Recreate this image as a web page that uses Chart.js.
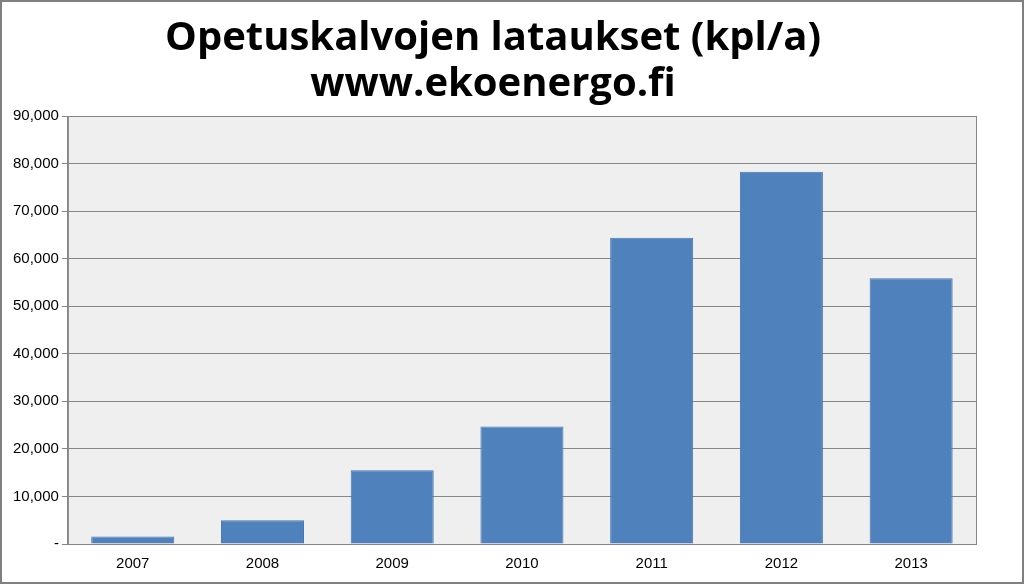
<!DOCTYPE html>
<html><head><meta charset="utf-8">
<script src="https://cdn.jsdelivr.net/npm/chart.js@4"></script>
<style>html,body{margin:0;padding:0;background:#fff}#w{position:relative;width:1020px;height:580px;border:2px solid #7f7f7f;}</style>
</head><body><div id="w"><canvas id="c"></canvas></div>
<script>
const categories=['2007','2008','2009','2010','2011','2012','2013'];
const downloads=[1600,5000,15500,24700,64400,78300,55900];
const titleLines=['Opetuskalvojen lataukset (kpl/a)','www.ekoenergo.fi'];

const bgPlugin={
  id:'bg',
  beforeDraw(ch){
    const a=ch.chartArea, x=ch.ctx;
    x.save(); x.fillStyle='#efefef';
    x.fillRect(a.left,a.top,a.right-a.left,a.bottom-a.top);
    x.restore();
  },
  afterDraw(ch){
    const a=ch.chartArea, x=ch.ctx;
    x.save(); x.strokeStyle='#868686'; x.lineWidth=1;
    x.strokeRect(a.left+0.5,a.top+0.5,a.right-a.left,a.bottom-a.top);
    x.restore();
  }
};

const tickFont={family:'Liberation Sans',size:15};

const options={
  responsive:true,
  maintainAspectRatio:false,
  animation:false,
  layout:{padding:{left:8,right:46,top:0,bottom:6}},
  plugins:{
    legend:{display:false},
    tooltip:{enabled:false},
    title:{
      display:true,
      text:titleLines,
      color:'#000',
      font:{family:'Open Sans',size:40,weight:'bold',lineHeight:1.15},
      padding:{top:14,bottom:8}
    }
  },
  scales:{
    x:{
      grid:{display:false},
      border:{color:'#868686'},
      ticks:{color:'#000',font:tickFont}
    },
    y:{
      min:0,
      max:90000,
      ticks:{
        stepSize:10000,
        color:'#000',
        font:tickFont,
        callback:function(v){return v===0?'-':v.toLocaleString('en-US');}
      },
      grid:{color:'#868686',tickLength:6},
      border:{color:'#868686'}
    }
  }
};

new Chart(document.getElementById('c'),{
  type:'bar',
  data:{
    labels:categories,
    datasets:[{
      data:downloads,
      backgroundColor:'#4f81bd',
      borderColor:'#4677b2',
      borderWidth:1,
      categoryPercentage:0.64,
      barPercentage:1
    }]
  },
  options:options,
  plugins:[bgPlugin]
});
</script></body></html>
